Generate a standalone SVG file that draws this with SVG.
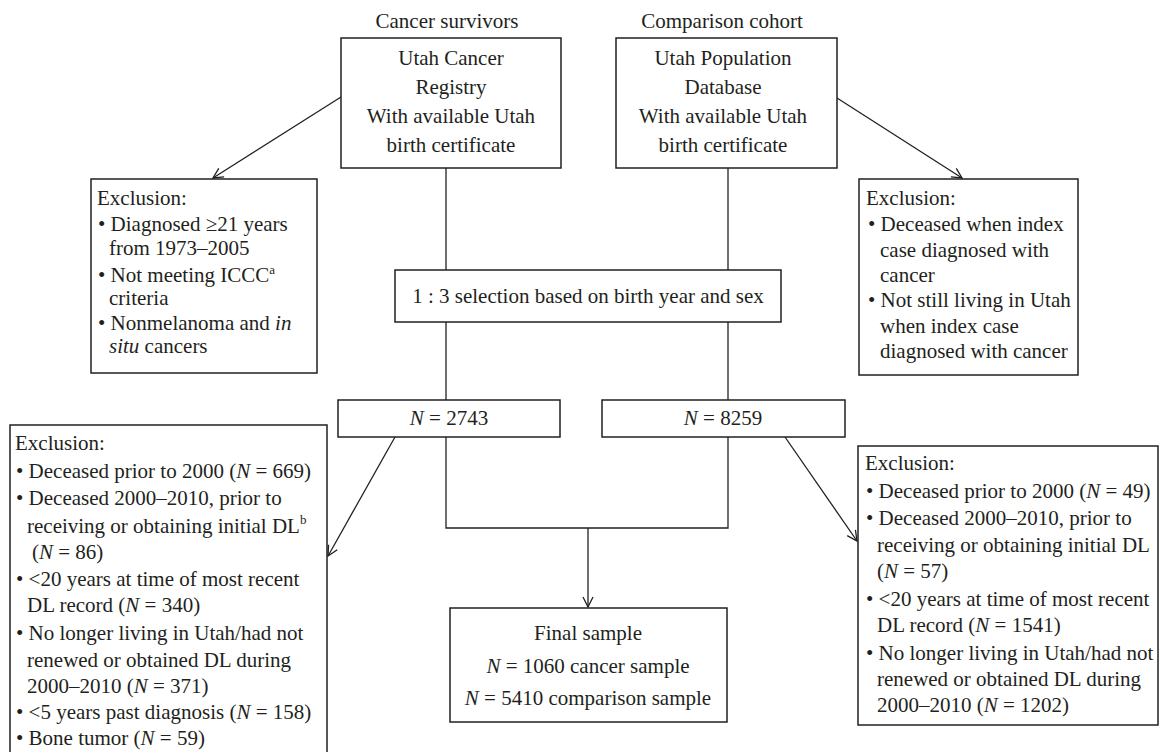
<svg xmlns="http://www.w3.org/2000/svg" width="1159" height="752" viewBox="0 0 1159 752">
<defs>
<style>
text{font-family:"Liberation Serif","Times New Roman",serif;font-size:21px;fill:#231f20}
.c{text-anchor:middle}
.box{fill:#fff;stroke:#231f20;stroke-width:1.5}
.ln{fill:none;stroke:#231f20;stroke-width:1.3}
.i{font-style:italic}
.sup{font-size:13px}
</style>
<marker id="ah" viewBox="0 0 12 12" refX="11" refY="6" markerWidth="12" markerHeight="12" markerUnits="userSpaceOnUse" orient="auto">
<path d="M1,1 L11,6 L1,11" fill="none" stroke="#231f20" stroke-width="1.3"/>
</marker>
</defs>
<rect width="1159" height="752" fill="#fff"/>

<text class="c" x="447" y="28">Cancer survivors</text>
<text class="c" x="722" y="28">Comparison cohort</text>

<g id="connectors">
<line class="ln" x1="341" y1="97" x2="213" y2="178" marker-end="url(#ah)"/>
<line class="ln" x1="837" y1="98" x2="962" y2="178" marker-end="url(#ah)"/>
<line class="ln" x1="446" y1="168" x2="446" y2="270"/>
<line class="ln" x1="728" y1="168" x2="728" y2="270"/>
<line class="ln" x1="446" y1="322" x2="446" y2="400"/>
<line class="ln" x1="728" y1="322" x2="728" y2="400"/>
<line class="ln" x1="395" y1="437" x2="328" y2="556" marker-end="url(#ah)"/>
<line class="ln" x1="785" y1="437" x2="857" y2="541" marker-end="url(#ah)"/>
<polyline class="ln" points="446,437 446,528 728,528 728,437"/>
<line class="ln" x1="588" y1="528" x2="588" y2="607" marker-end="url(#ah)"/>
</g>

<g id="registry">
<rect class="box" x="341" y="38" width="220" height="130"/>
<text class="c" x="451" y="65">Utah Cancer</text>
<text class="c" x="451" y="94">Registry</text>
<text class="c" x="451" y="123">With available Utah</text>
<text class="c" x="451" y="152">birth certificate</text>
</g>

<g id="popdb">
<rect class="box" x="616" y="38" width="221" height="130"/>
<text class="c" x="723" y="65">Utah Population</text>
<text class="c" x="723" y="94">Database</text>
<text class="c" x="723" y="123">With available Utah</text>
<text class="c" x="723" y="152">birth certificate</text>
</g>

<g id="excl-left-top">
<rect class="box" x="91" y="179" width="226" height="194"/>
<text x="97" y="205">Exclusion:</text>
<text x="98" y="231">• Diagnosed ≥21 years</text>
<text x="109" y="255">from 1973–2005</text>
<text x="98" y="282">• Not meeting ICCC<tspan class="sup" dy="-8">a</tspan></text>
<text x="109" y="305">criteria</text>
<text x="98" y="330">• Nonmelanoma and <tspan class="i">in</tspan></text>
<text x="109" y="353"><tspan class="i">situ</tspan> cancers</text>
</g>

<g id="excl-right-top">
<rect class="box" x="859" y="179" width="219" height="196"/>
<text x="866" y="205">Exclusion:</text>
<text x="868" y="231">• Deceased when index</text>
<text x="880" y="257">case diagnosed with</text>
<text x="880" y="282">cancer</text>
<text x="868" y="307">• Not still living in Utah</text>
<text x="880" y="333">when index case</text>
<text x="880" y="358">diagnosed with cancer</text>
</g>

<g id="selection">
<rect class="box" x="395" y="270" width="386" height="52"/>
<text class="c" x="588" y="303">1 : 3 selection based on birth year and sex</text>
</g>

<g id="n-cancer">
<rect class="box" x="338" y="400" width="222" height="37"/>
<text class="c" x="449" y="425"><tspan class="i">N</tspan> = 2743</text>
</g>

<g id="n-comparison">
<rect class="box" x="602" y="400" width="243" height="37"/>
<text class="c" x="723" y="425"><tspan class="i">N</tspan> = 8259</text>
</g>

<g id="excl-left-bottom">
<rect class="box" x="10" y="425" width="317" height="340"/>
<text x="15" y="450">Exclusion:</text>
<text x="16" y="478">• Deceased prior to 2000 (<tspan class="i">N</tspan> = 669)</text>
<text x="16" y="505">• Deceased 2000–2010, prior to</text>
<text x="27" y="533">receiving or obtaining initial DL<tspan class="sup" dy="-9">b</tspan></text>
<text x="32" y="559">(<tspan class="i">N</tspan> = 86)</text>
<text x="16" y="586">• &lt;20 years at time of most recent</text>
<text x="27" y="612">DL record (<tspan class="i">N</tspan> = 340)</text>
<text x="16" y="640">• No longer living in Utah/had not</text>
<text x="27" y="667">renewed or obtained DL during</text>
<text x="27" y="693">2000–2010 (<tspan class="i">N</tspan> = 371)</text>
<text x="16" y="719">• &lt;5 years past diagnosis (<tspan class="i">N</tspan> = 158)</text>
<text x="16" y="745">• Bone tumor (<tspan class="i">N</tspan> = 59)</text>
</g>

<g id="excl-right-bottom">
<rect class="box" x="858" y="446" width="300" height="279"/>
<text x="865" y="470">Exclusion:</text>
<text x="866" y="498">• Deceased prior to 2000 (<tspan class="i">N</tspan> = 49)</text>
<text x="866" y="525">• Deceased 2000–2010, prior to</text>
<text x="877" y="552">receiving or obtaining initial DL</text>
<text x="877" y="578">(<tspan class="i">N</tspan> = 57)</text>
<text x="866" y="606">• &lt;20 years at time of most recent</text>
<text x="877" y="632">DL record (<tspan class="i">N</tspan> = 1541)</text>
<text x="866" y="660">• No longer living in Utah/had not</text>
<text x="877" y="686">renewed or obtained DL during</text>
<text x="877" y="712">2000–2010 (<tspan class="i">N</tspan> = 1202)</text>
</g>

<g id="final">
<rect class="box" x="450" y="608" width="277" height="114"/>
<text class="c" x="588" y="640">Final sample</text>
<text class="c" x="588" y="673"><tspan class="i">N</tspan> = 1060 cancer sample</text>
<text class="c" x="588" y="705"><tspan class="i">N</tspan> = 5410 comparison sample</text>
</g>
</svg>
